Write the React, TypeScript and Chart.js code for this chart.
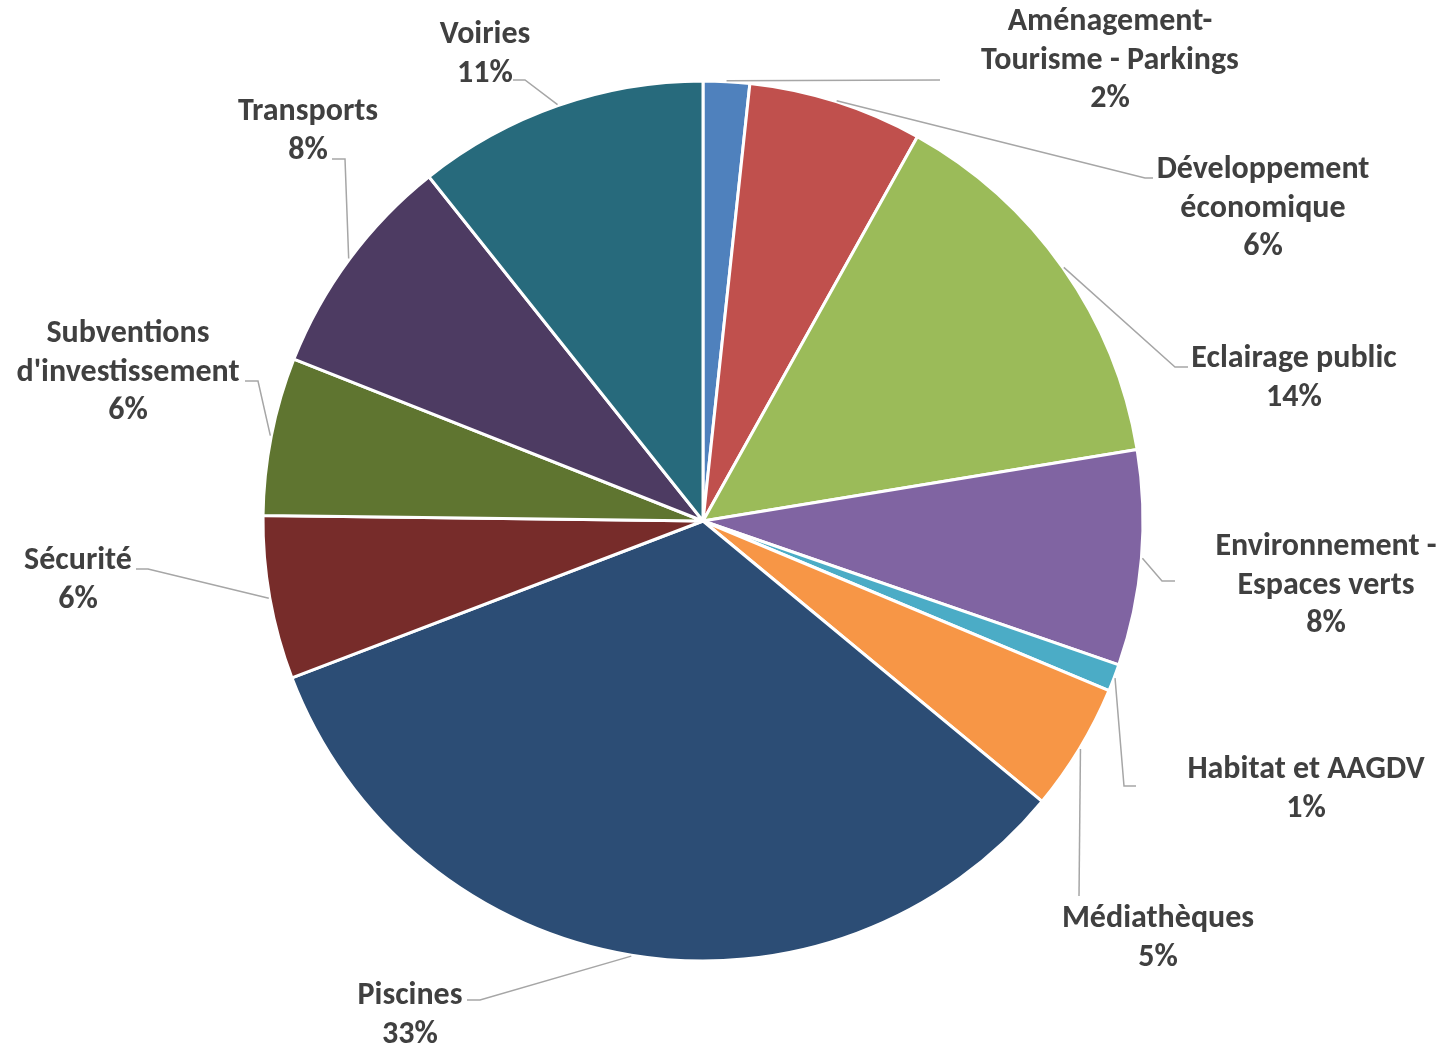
import React, { useEffect, useRef } from "react";
import { Chart, registerables } from "chart.js";

Chart.register(...registerables);

const categories = [
  "Aménagement-Tourisme - Parkings",
  "Développement économique",
  "Eclairage public",
  "Environnement - Espaces verts",
  "Habitat et AAGDV",
  "Médiathèques",
  "Piscines",
  "Sécurité",
  "Subventions d'investissement",
  "Transports",
  "Voiries",
];

const labelLines = [
  ["Aménagement-", "Tourisme - Parkings"],
  ["Développement", "économique"],
  ["Eclairage public"],
  ["Environnement -", "Espaces verts"],
  ["Habitat et AAGDV"],
  ["Médiathèques"],
  ["Piscines"],
  ["Sécurité"],
  ["Subventions", "d'investissement"],
  ["Transports"],
  ["Voiries"],
];

const shares = [1.7, 6.4, 14.3, 7.9, 1.0, 4.7, 33.2, 6.0, 5.8, 8.3, 10.7];

const colors = [
  "#4F81BD",
  "#C0504D",
  "#9BBB59",
  "#8064A2",
  "#4BACC6",
  "#F79646",
  "#2C4D75",
  "#772C2A",
  "#5F7530",
  "#4D3B62",
  "#276A7C",
];

// label layout: text center x, first line center y, leader knee and end
const labelLayout = [
  { cx: 1110, y: 22, knee: [940, 80], end: [940, 80] },
  { cx: 1263, y: 170, knee: [1145, 178], end: [1153, 178] },
  { cx: 1294, y: 359, knee: [1175, 367], end: [1188, 367] },
  { cx: 1326, y: 547, knee: [1162, 581], end: [1175, 581] },
  { cx: 1306, y: 770, knee: [1124, 786], end: [1136, 786] },
  { cx: 1158, y: 919, knee: [1079, 896], end: [1079, 896] },
  { cx: 410, y: 996, knee: [480, 1000], end: [467, 1000] },
  { cx: 78, y: 561, knee: [148, 569], end: [136, 569] },
  { cx: 128, y: 334, knee: [258, 381], end: [245, 381] },
  { cx: 308, y: 112, knee: [345, 159], end: [332, 159] },
  { cx: 485, y: 35, knee: [525, 80], end: [513, 80] },
];

const LINE_H = 38.7;
const FONT = "bold 32px Carlito, Lato, 'Open Sans', sans-serif";

const labelPlugin = {
  id: "outerLabels",
  afterDraw(chart: any) {
    const ctx = chart.ctx;
    const meta = chart.getDatasetMeta(0);
    const data = chart.data.datasets[0].data as number[];
    const total = data.reduce((a, b) => a + b, 0);
    ctx.save();
    meta.data.forEach((arc: any, i: number) => {
      const mid = (arc.startAngle + arc.endAngle) / 2;
      const r = arc.outerRadius + 1;
      const sx = arc.x + Math.cos(mid) * r;
      const sy = arc.y + Math.sin(mid) * r;
      const L = labelLayout[i];
      ctx.strokeStyle = "#A6A6A6";
      ctx.lineWidth = 1.5;
      ctx.beginPath();
      ctx.moveTo(sx, sy);
      ctx.lineTo(L.knee[0], L.knee[1]);
      ctx.lineTo(L.end[0], L.end[1]);
      ctx.stroke();

      const lines = [...labelLines[i], Math.round((data[i] / total) * 100) + "%"];
      ctx.fillStyle = "#404040";
      ctx.font = FONT;
      ctx.textAlign = "center";
      ctx.textBaseline = "middle";
      lines.forEach((t, k) => {
        ctx.fillText(t, L.cx, L.y + k * LINE_H);
      });
    });
    ctx.restore();
  },
};

export default function App() {
  const ref = useRef<HTMLCanvasElement | null>(null);
  useEffect(() => {
    if (!ref.current) return;
    const chart = new Chart(ref.current, {
      type: "pie",
      data: {
        labels: categories,
        datasets: [
          {
            data: shares,
            backgroundColor: colors,
            borderColor: "#FFFFFF",
            borderWidth: 3,
          },
        ],
      },
      options: {
        responsive: false,
        animation: false,
        radius: 440,
        layout: { padding: { left: 0, right: 36, top: 0, bottom: 5 } },
        plugins: {
          legend: { display: false },
          tooltip: { enabled: false },
        },
      } as any,
      plugins: [labelPlugin],
    });
    return () => chart.destroy();
  }, []);
  return (
    <div style={{ position: "fixed", left: 0, top: 0, width: 1442, height: 1047, background: "#fff" }}>
      <canvas ref={ref} width={1442} height={1047} style={{ width: 1442, height: 1047 }} />
    </div>
  );
}
